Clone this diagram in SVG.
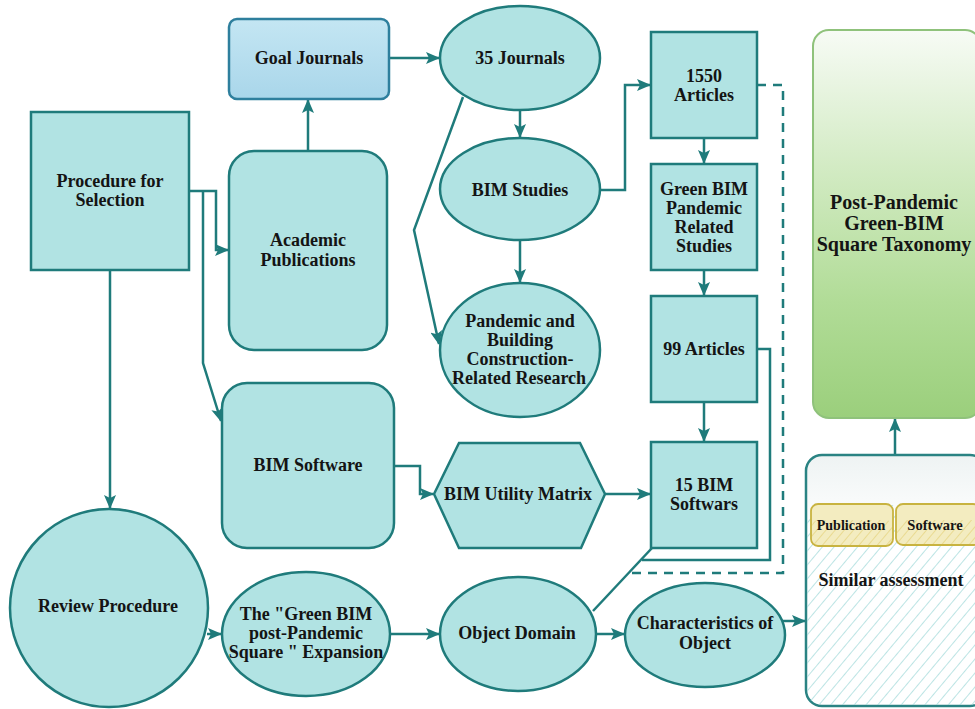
<svg xmlns="http://www.w3.org/2000/svg" width="975" height="709" viewBox="0 0 975 709">
  <defs>
    <style>
      .node { fill: #b1e3e3; stroke: #1f7b7b; stroke-width: 2.5; }
      .lbl { font-family: "Liberation Serif", "Times New Roman", serif; font-weight: bold; font-size: 18px; fill: #141414; text-anchor: middle; }
      .edge { fill: none; stroke: #1f7b7b; stroke-width: 2.5; }
      .dash { fill: none; stroke: #1f7b7b; stroke-width: 2.5; stroke-dasharray: 9 7; }
    </style>
    <marker id="arrow" viewBox="0 0 14 12" refX="13" refY="6" markerWidth="14" markerHeight="12" markerUnits="userSpaceOnUse" orient="auto">
      <path d="M0,0 L14,6 L0,12 L3,6 Z" fill="#1f7b7b"/>
    </marker>
    <linearGradient id="goalFill" x1="0" y1="0" x2="0" y2="1">
      <stop offset="0" stop-color="#c4e6f3"/>
      <stop offset="1" stop-color="#a9d6ea"/>
    </linearGradient>
    <linearGradient id="taxFill" x1="0" y1="0" x2="0" y2="1">
      <stop offset="0" stop-color="#f7fbf5"/>
      <stop offset="0.35" stop-color="#d3ebc4"/>
      <stop offset="0.7" stop-color="#b1dc97"/>
      <stop offset="1" stop-color="#9bcf7c"/>
    </linearGradient>
    <linearGradient id="simFill" x1="0" y1="0" x2="0" y2="1">
      <stop offset="0" stop-color="#eef3f3"/>
      <stop offset="0.3" stop-color="#ffffff"/>
      <stop offset="1" stop-color="#ffffff"/>
    </linearGradient>
    <pattern id="hatch" width="9" height="9" patternUnits="userSpaceOnUse" patternTransform="rotate(40)">
      <line x1="0" y1="0" x2="0" y2="9" stroke="#9fd8d8" stroke-width="1.4"/>
    </pattern>
    <pattern id="hatchY" width="7" height="7" patternUnits="userSpaceOnUse" patternTransform="rotate(40)">
      <line x1="0" y1="0" x2="0" y2="7" stroke="#e3cf72" stroke-width="1.2"/>
    </pattern>
  </defs>

  <rect width="975" height="709" fill="#ffffff"/>

  <!-- connectors -->
  <g id="connectors">
    <path class="edge" d="M389,58 H439" marker-end="url(#arrow)"/>
    <path class="edge" d="M308,151 V100" marker-end="url(#arrow)"/>
    <path class="edge" d="M189,191 H216 V250 H228" marker-end="url(#arrow)"/>
    <path class="edge" d="M203,191 V363 L221,421" marker-end="url(#arrow)"/>
    <path class="edge" d="M110,270 V508" marker-end="url(#arrow)"/>
    <path class="edge" d="M520,110 V137" marker-end="url(#arrow)"/>
    <path class="edge" d="M520,240 V282" marker-end="url(#arrow)"/>
    <path class="edge" d="M463,97 L414,230 L439,344" marker-end="url(#arrow)"/>
    <path class="edge" d="M600,190 H625 V85 H650" marker-end="url(#arrow)"/>
    <path class="edge" d="M704,138 V163" marker-end="url(#arrow)"/>
    <path class="edge" d="M704,270 V295" marker-end="url(#arrow)"/>
    <path class="edge" d="M704,402 V441" marker-end="url(#arrow)"/>
    <path class="edge" d="M394,466 H420 V494 H433" marker-end="url(#arrow)"/>
    <path class="edge" d="M605,494 H650" marker-end="url(#arrow)"/>
    <path class="edge" d="M757,349 H770 V560 H642"/>
    <path class="dash" d="M757,85 H783 V573 H628"/>
    <path class="edge" d="M593,611 L652,548"/>
    <path class="edge" d="M207,634 H221" marker-end="url(#arrow)"/>
    <path class="edge" d="M390,634 H439" marker-end="url(#arrow)"/>
    <path class="edge" d="M596,634 H624" marker-end="url(#arrow)"/>
    <path class="edge" d="M778,621 H805" marker-end="url(#arrow)"/>
    <path class="edge" d="M895,455 V419" marker-end="url(#arrow)"/>
  </g>

  <g id="goal-journals">
    <rect x="229" y="19" width="160" height="80" rx="8" fill="url(#goalFill)" stroke="#2e7f9d" stroke-width="2.5"/>
    <text class="lbl" x="309" y="64">Goal Journals</text>
  </g>

  <g id="procedure-for-selection">
    <rect class="node" x="31" y="112" width="158" height="158"/>
    <text class="lbl" x="110" y="187">Procedure for</text>
    <text class="lbl" x="110" y="206">Selection</text>
  </g>

  <g id="academic-publications">
    <rect class="node" x="229" y="151" width="158" height="199" rx="25"/>
    <text class="lbl" x="308" y="246">Academic</text>
    <text class="lbl" x="308" y="266">Publications</text>
  </g>

  <g id="journals-35">
    <ellipse class="node" cx="520" cy="58" rx="80" ry="52"/>
    <text class="lbl" x="520" y="64">35 Journals</text>
  </g>

  <g id="bim-studies">
    <ellipse class="node" cx="520" cy="189" rx="80" ry="51"/>
    <text class="lbl" x="520" y="196">BIM Studies</text>
  </g>

  <g id="pandemic-research">
    <ellipse class="node" cx="520" cy="350" rx="80" ry="67"/>
    <text class="lbl" x="520" y="327">Pandemic and</text>
    <text class="lbl" x="520" y="346">Building</text>
    <text class="lbl" x="520" y="365">Construction-</text>
    <text class="lbl" x="519" y="384">Related Research</text>
  </g>

  <g id="articles-1550">
    <rect class="node" x="651" y="32" width="106" height="106"/>
    <text class="lbl" x="704" y="82">1550</text>
    <text class="lbl" x="704" y="101">Articles</text>
  </g>

  <g id="green-bim-studies">
    <rect class="node" x="651" y="164" width="106" height="106"/>
    <text class="lbl" x="704" y="195">Green BIM</text>
    <text class="lbl" x="704" y="214">Pandemic</text>
    <text class="lbl" x="704" y="233">Related</text>
    <text class="lbl" x="704" y="252">Studies</text>
  </g>

  <g id="articles-99">
    <rect class="node" x="651" y="296" width="106" height="106"/>
    <text class="lbl" x="704" y="355">99 Articles</text>
  </g>

  <g id="bim-softwars-15">
    <rect class="node" x="651" y="442" width="106" height="106"/>
    <text class="lbl" x="704" y="491">15 BIM</text>
    <text class="lbl" x="704" y="510">Softwars</text>
  </g>

  <g id="bim-software">
    <rect class="node" x="222" y="383" width="172" height="165" rx="25"/>
    <text class="lbl" x="308" y="471">BIM Software</text>
  </g>

  <g id="bim-utility-matrix">
    <polygon class="node" points="434,494 459,443 580,443 605,494 581,548 459,548"/>
    <text class="lbl" x="518" y="500">BIM Utility Matrix</text>
  </g>

  <g id="review-procedure">
    <circle class="node" cx="109" cy="608" r="99"/>
    <text class="lbl" x="108" y="612">Review Procedure</text>
  </g>

  <g id="square-expansion">
    <ellipse class="node" cx="306" cy="634" rx="84" ry="62"/>
    <text class="lbl" x="306" y="620">The "Green BIM</text>
    <text class="lbl" x="306" y="639">post-Pandemic</text>
    <text class="lbl" x="306" y="658">Square " Expansion</text>
  </g>

  <g id="object-domain">
    <ellipse class="node" cx="518" cy="634" rx="78" ry="57"/>
    <text class="lbl" x="517" y="639">Object Domain</text>
  </g>

  <g id="characteristics-of-object">
    <ellipse class="node" cx="705" cy="635" rx="80" ry="52"/>
    <text class="lbl" x="705" y="629">Characteristics of</text>
    <text class="lbl" x="705" y="649">Object</text>
  </g>

  <g id="square-taxonomy">
    <rect x="813" y="30" width="168" height="388" rx="16" fill="url(#taxFill)" stroke="#8fc27b" stroke-width="2"/>
    <text class="lbl" x="894" y="209" style="font-size:20px">Post-Pandemic</text>
    <text class="lbl" x="894" y="230" style="font-size:20px">Green-BIM</text>
    <text class="lbl" x="894" y="251" style="font-size:20px">Square Taxonomy</text>
  </g>

  <g id="similar-assessment">
    <rect x="806" y="455" width="180" height="251" rx="16" fill="url(#simFill)" stroke="#2a8383" stroke-width="2.5"/>
    <rect x="807" y="505" width="178" height="200" rx="14" fill="url(#hatch)"/>
    <g id="publication">
      <rect x="811" y="504" width="82" height="42" rx="7" fill="#f3ecc0" stroke="#c8b340" stroke-width="1.8"/>
      <rect x="812" y="520" width="80" height="25" rx="6" fill="url(#hatchY)"/>
      <text class="lbl" x="851" y="530" style="font-size:14px">Publication</text>
    </g>
    <g id="software">
      <rect x="896" y="504" width="84" height="41" rx="7" fill="#f3ecc0" stroke="#c8b340" stroke-width="1.8"/>
      <rect x="897" y="520" width="82" height="24" rx="6" fill="url(#hatchY)"/>
      <text class="lbl" x="935" y="530" style="font-size:14.5px">Software</text>
    </g>
    <text class="lbl" x="891" y="586">Similar assessment</text>
  </g>
</svg>
